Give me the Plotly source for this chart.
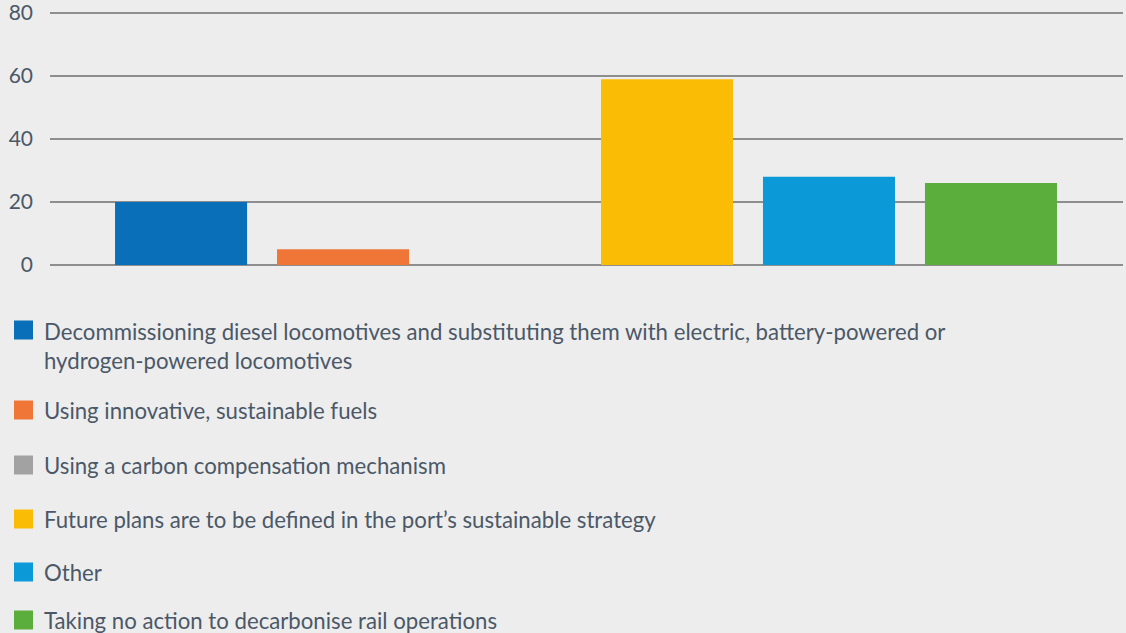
import plotly.graph_objects as go

# answer categories (legend labels) and share of ports (%)
categories = [
    "Decommissioning diesel locomotives and substituting them with electric, battery-powered or<br>hydrogen-powered locomotives",
    "Using innovative, sustainable fuels",
    "Using a carbon compensation mechanism",
    "Future plans are to be defined in the port\u2019s sustainable strategy",
    "Other",
    "Taking no action to decarbonise rail operations",
]
values = [20, 5, 0, 59, 28, 26]
colors = ["#0a6fb9", "#ef7636", "#a2a2a2", "#fbbc05", "#0b9ad7", "#5cae3c"]
y_ticks = [0, 20, 40, 60, 80]

FONT = "Lato, 'Open Sans', sans-serif"
TEXT = "#4b5867"
BG = "#ededed"

W, H = 1126, 633
L, R, T, B = 50, 3, 5, 368
plot_h = H - T - B
plot_w = W - L - R
y_top = plot_h / 3.15   # 3.15 px per unit, so 80 sits just below the top

x_idx = list(range(len(categories)))

fig = go.Figure()
fig.add_trace(go.Bar(
    x=x_idx,
    y=values,
    width=0.815,
    marker=dict(color=colors, line=dict(width=0)),
    showlegend=False,
    hoverinfo="skip",
))

# legend drawn by hand: square swatch + label, one row per category
legend_rows = [346, 410, 465, 519, 572, 620]   # pixel row centres
swatch_rows = [330, 410, 465, 519, 572, 620]


def py(p):
    return (H - B - p) / plot_h


def px_(p):
    return (p - L) / plot_w


for label, col, ty, sy in zip(categories, colors, legend_rows, swatch_rows):
    fig.add_shape(
        type="rect", xref="paper", yref="paper",
        x0=px_(14), x1=px_(33), y0=py(sy + 9.5), y1=py(sy - 9.5),
        fillcolor=col, line=dict(width=0),
    )
    fig.add_annotation(
        text=label, xref="paper", yref="paper",
        x=px_(42), y=py(ty), xanchor="left", yanchor="middle",
        align="left", showarrow=False,
        font=dict(family=FONT, size=22.2, color=TEXT),
    )

fig.update_layout(
    width=W, height=H,
    margin=dict(l=L, r=R, t=T, b=B),
    paper_bgcolor=BG, plot_bgcolor=BG,
    font=dict(family=FONT, size=21, color=TEXT),
    xaxis=dict(range=[-0.809, 5.815], showticklabels=False, showgrid=False,
               zeroline=False, showline=False, fixedrange=True),
    yaxis=dict(range=[0, y_top], tickvals=y_ticks, showgrid=True,
               gridcolor="#8e8e8e", gridwidth=2, zeroline=True,
               zerolinecolor="#8e8e8e", zerolinewidth=2, showline=False,
               ticks="", ticklabelstandoff=16, fixedrange=True,
               ticklabeloverflow="allow", automargin=False,
               tickfont=dict(family=FONT, size=21, color=TEXT)),
)

fig.write_html("out.html", config={"displayModeBar": False},
               post_script="document.body.style.margin='0';")
